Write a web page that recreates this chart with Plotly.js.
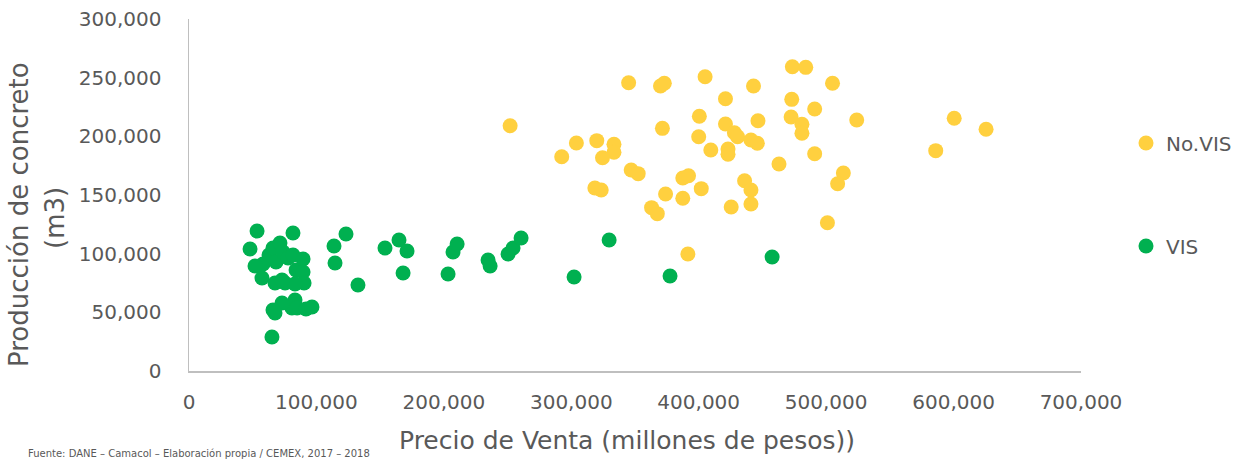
<!DOCTYPE html>
<html>
<head>
<meta charset="utf-8">
<script src="https://cdn.plot.ly/plotly-3.0.1.min.js"></script>
<style>html,body{margin:0;padding:0;background:#fff;}#chart{width:1240px;height:461px;}</style>
</head>
<body>
<div id="chart"></div>
<script>
// No.VIS series: precio de venta (x) and producción de concreto (y)
const noVisPrecio = [252000, 345000, 370000, 373000, 405000, 443000, 421000, 473500, 484000, 505000,
  473000, 491000, 472500, 481000, 481000, 524000, 371500, 400500, 421000, 428000,
  430500, 441000, 446000, 446500, 400000, 409500, 423000, 423000, 463000, 491000,
  513500, 509000, 501000, 304000, 292500, 320000, 333500, 333500, 324500, 347000,
  352500, 318500, 323500, 387500, 392000, 402000, 374000, 387500, 363000, 367500,
  425500, 436000, 441000, 441000, 391500, 600500, 625500, 586000];
const noVisProd = [209000, 245700, 242900, 245200, 250800, 242900, 232000, 259300, 258800, 245200,
  231500, 223300, 216500, 210300, 202600, 213900, 206800, 217100, 210500, 203100,
  199700, 196900, 194100, 213300, 199700, 188400, 189200, 184700, 176400, 185200,
  168700, 159600, 126400, 194300, 182600, 196300, 193200, 186400, 181800, 171300,
  168200, 156000, 154300, 164500, 166400, 155400, 150900, 147200, 139200, 134100,
  139800, 162200, 154300, 142300, 99700, 215400, 206000, 187800];

// VIS series
const visPrecio = [47900, 53400, 58100, 57300, 51800, 62800, 65900, 68300, 71400, 73800,
  67500, 75400, 77700, 81600, 81600, 84000, 89500, 89500, 90300, 83200,
  73000, 80800, 83200, 73000, 65900, 67500, 84800, 91800, 96500, 65100,
  113800, 114600, 123200, 132600, 153800, 164800, 171100, 168000, 203300, 207200,
  210400, 234700, 236300, 250400, 254300, 260600, 302200, 329700, 377500, 457600];
const visProd = [104000, 119300, 91200, 79300, 89500, 98900, 104800, 92900, 109100, 101400,
  75000, 75000, 96300, 117600, 98900, 86100, 95500, 84400, 75000, 74100,
  77600, 53700, 60500, 58000, 52000, 49400, 53700, 52800, 54500, 29000,
  106500, 92000, 116800, 73300, 104800, 111600, 102300, 83500, 82700, 101400,
  108200, 94600, 89500, 99700, 104800, 113400, 80100, 111600, 81000, 97200];

const seriesNames = ["No.VIS", "VIS"];
const xTitle = "Precio de Venta (millones de pesos))";
const yTitleLines = ["Producción de concreto", "(m3)"];
const sourceNote = "Fuente: DANE – Camacol – Elaboración propia / CEMEX, 2017 – 2018";

const FONT = "Century Gothic, DejaVu Sans, sans-serif";
const GREY = "#595959";
const AXIS = "#BFBFBF";

const traces = [
  {x: noVisPrecio, y: noVisProd, name: seriesNames[0], type: "scatter", mode: "markers",
   marker: {color: "#FFD03F", size: 15}, legend: "legend", cliponaxis: false},
  {x: visPrecio, y: visProd, name: seriesNames[1], type: "scatter", mode: "markers",
   marker: {color: "#00B050", size: 15}, legend: "legend2", cliponaxis: false}
];

const W = 1240, H = 461;
const L = 189, R = 1081, T = 19, B = 371;
const px = v => (v - L) / (R - L);
const py = v => (B - v) / (B - T);

const layout = {
  width: W, height: H,
  margin: {l: L, r: W - R, t: T, b: H - B, pad: 0, autoexpand: false},
  paper_bgcolor: "#fff", plot_bgcolor: "#fff",
  font: {family: FONT, color: GREY, size: 20},
  showlegend: true,
  legend: {xref: "container", yref: "container", x: 1126 / W, y: 1 - 143 / H,
           xanchor: "left", yanchor: "middle",
           bgcolor: "rgba(0,0,0,0)", font: {size: 20, color: GREY, family: FONT}},
  legend2: {xref: "container", yref: "container", x: 1126 / W, y: 1 - 246 / H,
           xanchor: "left", yanchor: "middle",
           bgcolor: "rgba(0,0,0,0)", font: {size: 20, color: GREY, family: FONT}},
  xaxis: {range: [0, 700000], dtick: 100000, tickformat: ",", showgrid: false, zeroline: false,
          showline: true, linecolor: AXIS, linewidth: 1.5, ticks: "", ticklabelstandoff: 12,
          tickfont: {size: 20, color: GREY, family: FONT}, fixedrange: true},
  yaxis: {range: [0, 300000], dtick: 50000, tickformat: ",", showgrid: false, zeroline: false,
          showline: true, linecolor: AXIS, linewidth: 1.5, ticks: "", ticklabelstandoff: 22,
          tickfont: {size: 20, color: GREY, family: FONT}, fixedrange: true},
  annotations: [
    {text: xTitle, xref: "paper", yref: "paper", x: px(627), y: py(441), xanchor: "center",
     yanchor: "middle", showarrow: false, font: {size: 25, color: GREY, family: FONT}},
    {text: yTitleLines[0], xref: "paper", yref: "paper", x: px(19), y: py(215), xanchor: "center",
     yanchor: "middle", textangle: -90, showarrow: false, font: {size: 26, color: GREY, family: FONT}},
    {text: yTitleLines[1], xref: "paper", yref: "paper", x: px(55), y: py(218), xanchor: "center",
     yanchor: "middle", textangle: -90, showarrow: false, font: {size: 26, color: GREY, family: FONT}},
    {text: sourceNote, xref: "paper", yref: "paper", x: px(26), y: py(461), xanchor: "left",
     yanchor: "bottom", showarrow: false, font: {size: 10, color: GREY, family: FONT}}
  ]
};

Plotly.newPlot("chart", traces, layout, {displayModeBar: false, staticPlot: true});
</script>
</body>
</html>
